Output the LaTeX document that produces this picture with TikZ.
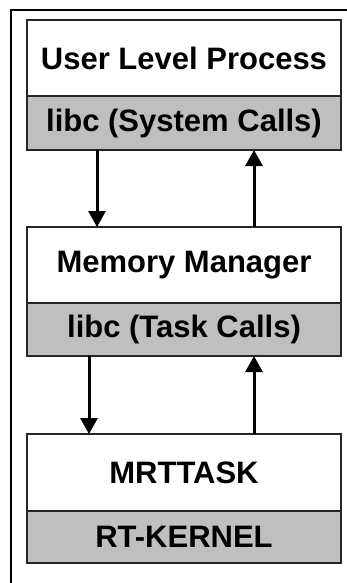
\documentclass[tikz,border=0pt]{standalone}
\usepackage{fontspec}
\setmainfont{Liberation Sans}
\usetikzlibrary{arrows.meta}
\begin{document}
\begin{tikzpicture}[x=1pt,y=-1pt,
  upper/.style={draw=black!85,line width=1.4pt,fill=white,minimum width=314pt,inner sep=0pt,outer sep=0pt,
    font=\fontsize{31}{36}\selectfont\bfseries},
  lower/.style={upper,fill=black!25},
  arr/.style={line width=3pt,-{Triangle[width=17pt,length=16pt]}}]
\useasboundingbox (0,0) rectangle (347,583);
\fill[white] (0,0) rectangle (347,583);
\draw[line width=2.4pt] (11,583) -- (11,10) -- (347,10);
% box 1
\node[upper,minimum height=76pt] (ulp) at (184,58) {User Level Process};
\node[lower,minimum height=54pt] (sys) at (184,123) {libc (System Calls)};
% box 2
\node[upper,minimum height=76pt] (mm) at (184,265) {Memory Manager};
\node[lower,minimum height=53pt] (task) at (184,329.5) {libc (Task Calls)};
% box 3
\node[upper,minimum height=77pt] (mrt) at (184,472.5) {MRTTASK};
\node[lower,minimum height=52pt] (rtk) at (184,537) {RT-KERNEL};
% arrows
\draw[arr] ([xshift=70pt]sys.south west) -- ([xshift=70pt]mm.north west);
\draw[arr] ([xshift=227pt]mm.north west) -- ([xshift=227pt]sys.south west);
\draw[arr] ([xshift=62pt]task.south west) -- ([xshift=62pt]mrt.north west);
\draw[arr] ([xshift=227pt]mrt.north west) -- ([xshift=227pt]task.south west);
\end{tikzpicture}
\end{document}
